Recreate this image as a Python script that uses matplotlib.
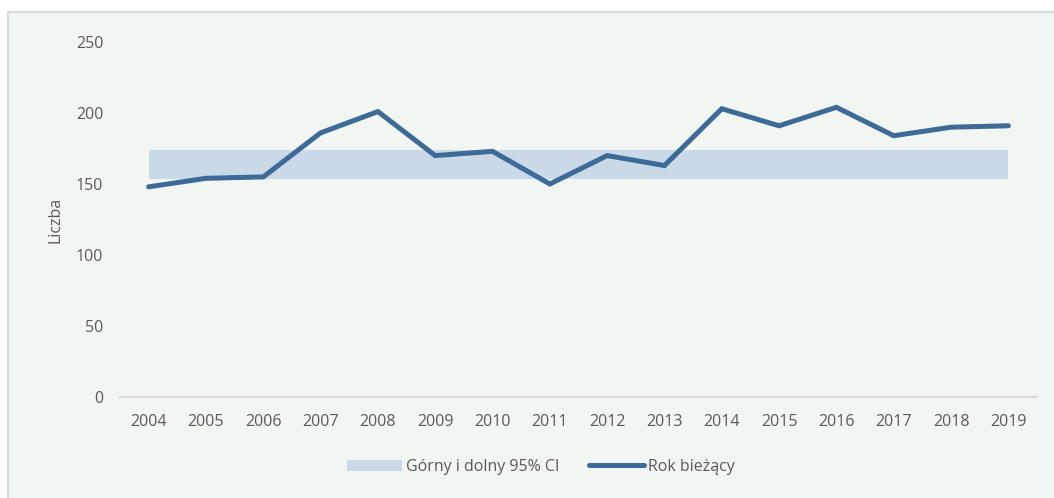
import matplotlib
matplotlib.use("Agg")
import matplotlib.pyplot as plt
from matplotlib.patches import Rectangle

years = ["2004", "2005", "2006", "2007", "2008", "2009", "2010", "2011",
         "2012", "2013", "2014", "2015", "2016", "2017", "2018", "2019"]
current = [148, 154, 155, 186, 201, 170, 173, 150, 170, 163, 203, 191, 204, 184, 190, 191]
ci_lower = [153.5] * 16
ci_upper = [174] * 16
yticks = [0, 50, 100, 150, 200, 250]

plt.rcParams['font.family'] = ['Open Sans', 'DejaVu Sans']
txt = '#595959'
bg = '#f2f6f3'
fs = 11.5

fig = plt.figure(figsize=(10.54, 4.98), dpi=100)
fig.patch.set_facecolor('white')
fig.patches.append(Rectangle((7.5 / 1054, -0.01), 1.02, 1 - 12.5 / 498 + 0.01,
                             transform=fig.transFigure, facecolor=bg,
                             edgecolor='#d9d9d9', linewidth=1.5, zorder=-10))

ax = fig.add_axes([120 / 1054, 1 - 397 / 498, (1037 - 120) / 1054, (397 - 42) / 498])
ax.set_facecolor('none')
x = list(range(len(years)))
ax.fill_between(x, ci_lower, ci_upper, color='#c9d9e8', linewidth=0,
                label='Górny i dolny 95% CI', zorder=1)
ax.plot(x, current, color='#3d6a96', linewidth=3.6, solid_capstyle='round',
        solid_joinstyle='miter', label='Rok bieżący', zorder=2)

ax.set_xlim(-0.5, len(years) - 0.5)
ax.set_ylim(0, 250)
ax.set_xticks(x)
ax.set_xticklabels(years)
ax.set_yticks(yticks)
ax.tick_params(axis='both', length=0, labelsize=fs, colors=txt)
ax.tick_params(axis='x', pad=12)
ax.tick_params(axis='y', pad=12)
for s in ['top', 'right', 'left']:
    ax.spines[s].set_visible(False)
ax.spines['bottom'].set_color('#d9d9d9')
ax.spines['bottom'].set_linewidth(1.5)
ax.set_ylabel('Liczba', color=txt, fontsize=fs, labelpad=9)

leg = fig.legend(loc='center', bbox_to_anchor=(541 / 1054, 1 - 467 / 498), ncol=2,
                 frameon=False, fontsize=fs, handlelength=3.4,
                 handletextpad=0.25, columnspacing=1.9, labelcolor=txt)

fig.savefig('out.png', dpi=100, facecolor=fig.get_facecolor())
